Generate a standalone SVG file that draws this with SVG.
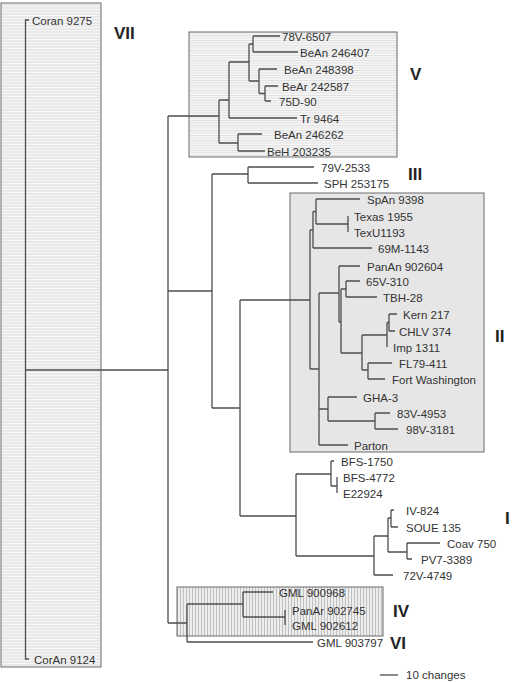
<svg xmlns="http://www.w3.org/2000/svg" width="513" height="682" viewBox="0 0 513 682">
<defs>
<pattern id="hatchVII" width="6" height="3" patternUnits="userSpaceOnUse"><rect width="6" height="3" fill="#e9e9e9"/><line x1="0" y1="0.5" x2="6" y2="0.5" stroke="#f6f6f6" stroke-width="1"/></pattern>
<pattern id="hatchH" width="6" height="2.5" patternUnits="userSpaceOnUse"><rect width="6" height="2.5" fill="#f6f6f6"/><line x1="0" y1="0.5" x2="6" y2="0.5" stroke="#dadada" stroke-width="0.8"/></pattern>
<pattern id="hatchV" width="3" height="6" patternUnits="userSpaceOnUse"><rect width="3" height="6" fill="#ededed"/><line x1="0.5" y1="0" x2="0.5" y2="6" stroke="#b5b5b5" stroke-width="0.8"/></pattern>
</defs>
<style>
text{font-family:"Liberation Sans",Arial,sans-serif;font-size:11.5px;fill:#333}
.lab{font-size:17px;font-weight:bold;fill:#222}
.box{stroke:#6a6a6a;stroke-width:1}
.conn path{fill:none;stroke:#4d4d4d;stroke-width:1.3}
</style>
<rect width="513" height="682" fill="#fff"/>
<g id="clade-VII"><rect class="box" x="1" y="3" width="100" height="664" fill="url(#hatchVII)"/><text class="lab" x="114" y="39">VII</text></g>
<g id="clade-V"><rect class="box" x="189" y="32" width="208" height="125" fill="url(#hatchH)"/><text class="lab" x="410" y="80">V</text></g>
<g id="clade-II"><rect class="box" x="290" y="193" width="194" height="259" fill="#e6e6e6"/><text class="lab" x="495" y="342">II</text></g>
<g id="clade-IV"><rect class="box" x="177" y="587" width="206" height="49" fill="url(#hatchV)"/><text class="lab" x="393" y="617">IV</text></g>
<g id="clade-III"><text class="lab" x="408" y="180">III</text></g>
<g id="clade-I"><text class="lab" x="505" y="524">I</text></g>
<g id="clade-VI"><text class="lab" x="390" y="649">VI</text></g>
<g class="conn" id="connectors">
<path d="M29,20 H25.5 V659 H29 M25.5,370 H168 M168,116 V623"/>
<path d="M168,116 H219 M219,100 V143 M219,100 H229 M229,62 V118 M229,62 H249 M249,44 V81 M249,44 H253 M253,36 V52 M253,36 H280 M253,52 H298 M249,81 H259 M259,69 V93.5 M259,69 H277 M259,93.5 H265 M265,86 V101 M265,86 H278 M265,101 H271 M229,118 H297 M219,143 H238 M238,134 V151 M238,134 H262 M238,151 H265"/>
<path d="M168,291 H212 M212,174 V408 M212,174 H248 M248,167 V183 M248,167 H314 M248,183 H318 M212,408 H240"/>
<path d="M240,300 V516 M240,300 H310 M310,230 V369 M310,230 H313 M313,211.5 V248 M313,211.5 H316 M316,199 V224 M316,199 H360 M316,224 H348 M348,216 V232 M313,248 H372 M310,369 H319 M319,293 V445 M319,293 H339 M339,266 V322 M339,266 H360 M339,322 H341 M341,289 V353 M341,289 H346 M346,281 V297 M346,281 H360 M346,297 H377 M341,353 H362 M362,335 V370 M362,335 H387 M387,322.5 V347 M387,322.5 H389 M389,314 V331 M389,314 H397 M389,331 H395 M362,370 H368 M368,363 V379 M368,363 H392 M368,379 H385 M319,409 H328 M328,397 V421 M328,397 H357 M328,421 H375 M375,413 V429 M375,413 H390 M375,429 H398 M319,445 H348"/>
<path d="M240,516 H296 M296,474 V556 M296,474 H331 M331,461 V486 M331,461 H334 M331,486 H337 M337,477 V493 M296,556 H374 M374,536 V575 M374,536 H388 M374,575 H393 M388,518 V552 M388,518 H391 M391,510 V527 M391,510 H394 M391,527 H398 M388,552 H407 M407,543 V559 M407,543 H440 M407,559 H412"/>
<path d="M168,623 H187 M187,604 V642 M187,604 H243 M187,642 H313 M243,592 V617 M243,592 H273 M243,617 H285 M285,610 V625"/>
<path d="M380,675 H398"/>
</g>
<g id="leaf-Coran9275"><text x="32" y="25">Coran 9275</text></g>
<g id="leaf-CorAn9124"><text x="34" y="664">CorAn 9124</text></g>
<g id="leaf-78V-6507"><text x="282" y="41">78V-6507</text></g>
<g id="leaf-BeAn246407"><text x="300" y="57">BeAn 246407</text></g>
<g id="leaf-BeAn248398"><text x="284" y="74">BeAn 248398</text></g>
<g id="leaf-BeAr242587"><text x="282" y="91">BeAr 242587</text></g>
<g id="leaf-75D-90"><text x="279" y="106">75D-90</text></g>
<g id="leaf-Tr9464"><text x="300" y="123">Tr 9464</text></g>
<g id="leaf-BeAn246262"><text x="274" y="139">BeAn 246262</text></g>
<g id="leaf-BeH203235"><text x="267" y="156">BeH 203235</text></g>
<g id="leaf-79V-2533"><text x="321" y="172">79V-2533</text></g>
<g id="leaf-SPH253175"><text x="324" y="188">SPH 253175</text></g>
<g id="leaf-SpAn9398"><text x="367" y="204">SpAn 9398</text></g>
<g id="leaf-Texas1955"><text x="354" y="221">Texas 1955</text></g>
<g id="leaf-TexU1193"><text x="354" y="237">TexU1193</text></g>
<g id="leaf-69M-1143"><text x="378" y="253">69M-1143</text></g>
<g id="leaf-PanAn902604"><text x="367" y="271">PanAn 902604</text></g>
<g id="leaf-65V-310"><text x="366" y="286">65V-310</text></g>
<g id="leaf-TBH-28"><text x="383" y="302">TBH-28</text></g>
<g id="leaf-Kern217"><text x="403" y="319">Kern 217</text></g>
<g id="leaf-CHLV374"><text x="399" y="336">CHLV 374</text></g>
<g id="leaf-Imp1311"><text x="393" y="352">Imp 1311</text></g>
<g id="leaf-FL79-411"><text x="399" y="368">FL79-411</text></g>
<g id="leaf-FortWashington"><text x="392" y="384">Fort Washington</text></g>
<g id="leaf-GHA-3"><text x="363" y="402">GHA-3</text></g>
<g id="leaf-83V-4953"><text x="397" y="418">83V-4953</text></g>
<g id="leaf-98V-3181"><text x="406" y="434">98V-3181</text></g>
<g id="leaf-Parton"><text x="354" y="450">Parton</text></g>
<g id="leaf-BFS-1750"><text x="341" y="466">BFS-1750</text></g>
<g id="leaf-BFS-4772"><text x="343" y="482">BFS-4772</text></g>
<g id="leaf-E22924"><text x="343" y="498">E22924</text></g>
<g id="leaf-IV-824"><text x="406" y="515">IV-824</text></g>
<g id="leaf-SOUE135"><text x="406" y="532">SOUE 135</text></g>
<g id="leaf-Coav750"><text x="447" y="548">Coav 750</text></g>
<g id="leaf-PV7-3389"><text x="421" y="564">PV7-3389</text></g>
<g id="leaf-72V-4749"><text x="403" y="580">72V-4749</text></g>
<g id="leaf-GML900968"><text x="279" y="597">GML 900968</text></g>
<g id="leaf-PanAr902745"><text x="292" y="615">PanAr 902745</text></g>
<g id="leaf-GML902612"><text x="292" y="630">GML 902612</text></g>
<g id="leaf-GML903797"><text x="317" y="647">GML 903797</text></g>
<g id="scale"><text x="406" y="679">10 changes</text></g>
</svg>
